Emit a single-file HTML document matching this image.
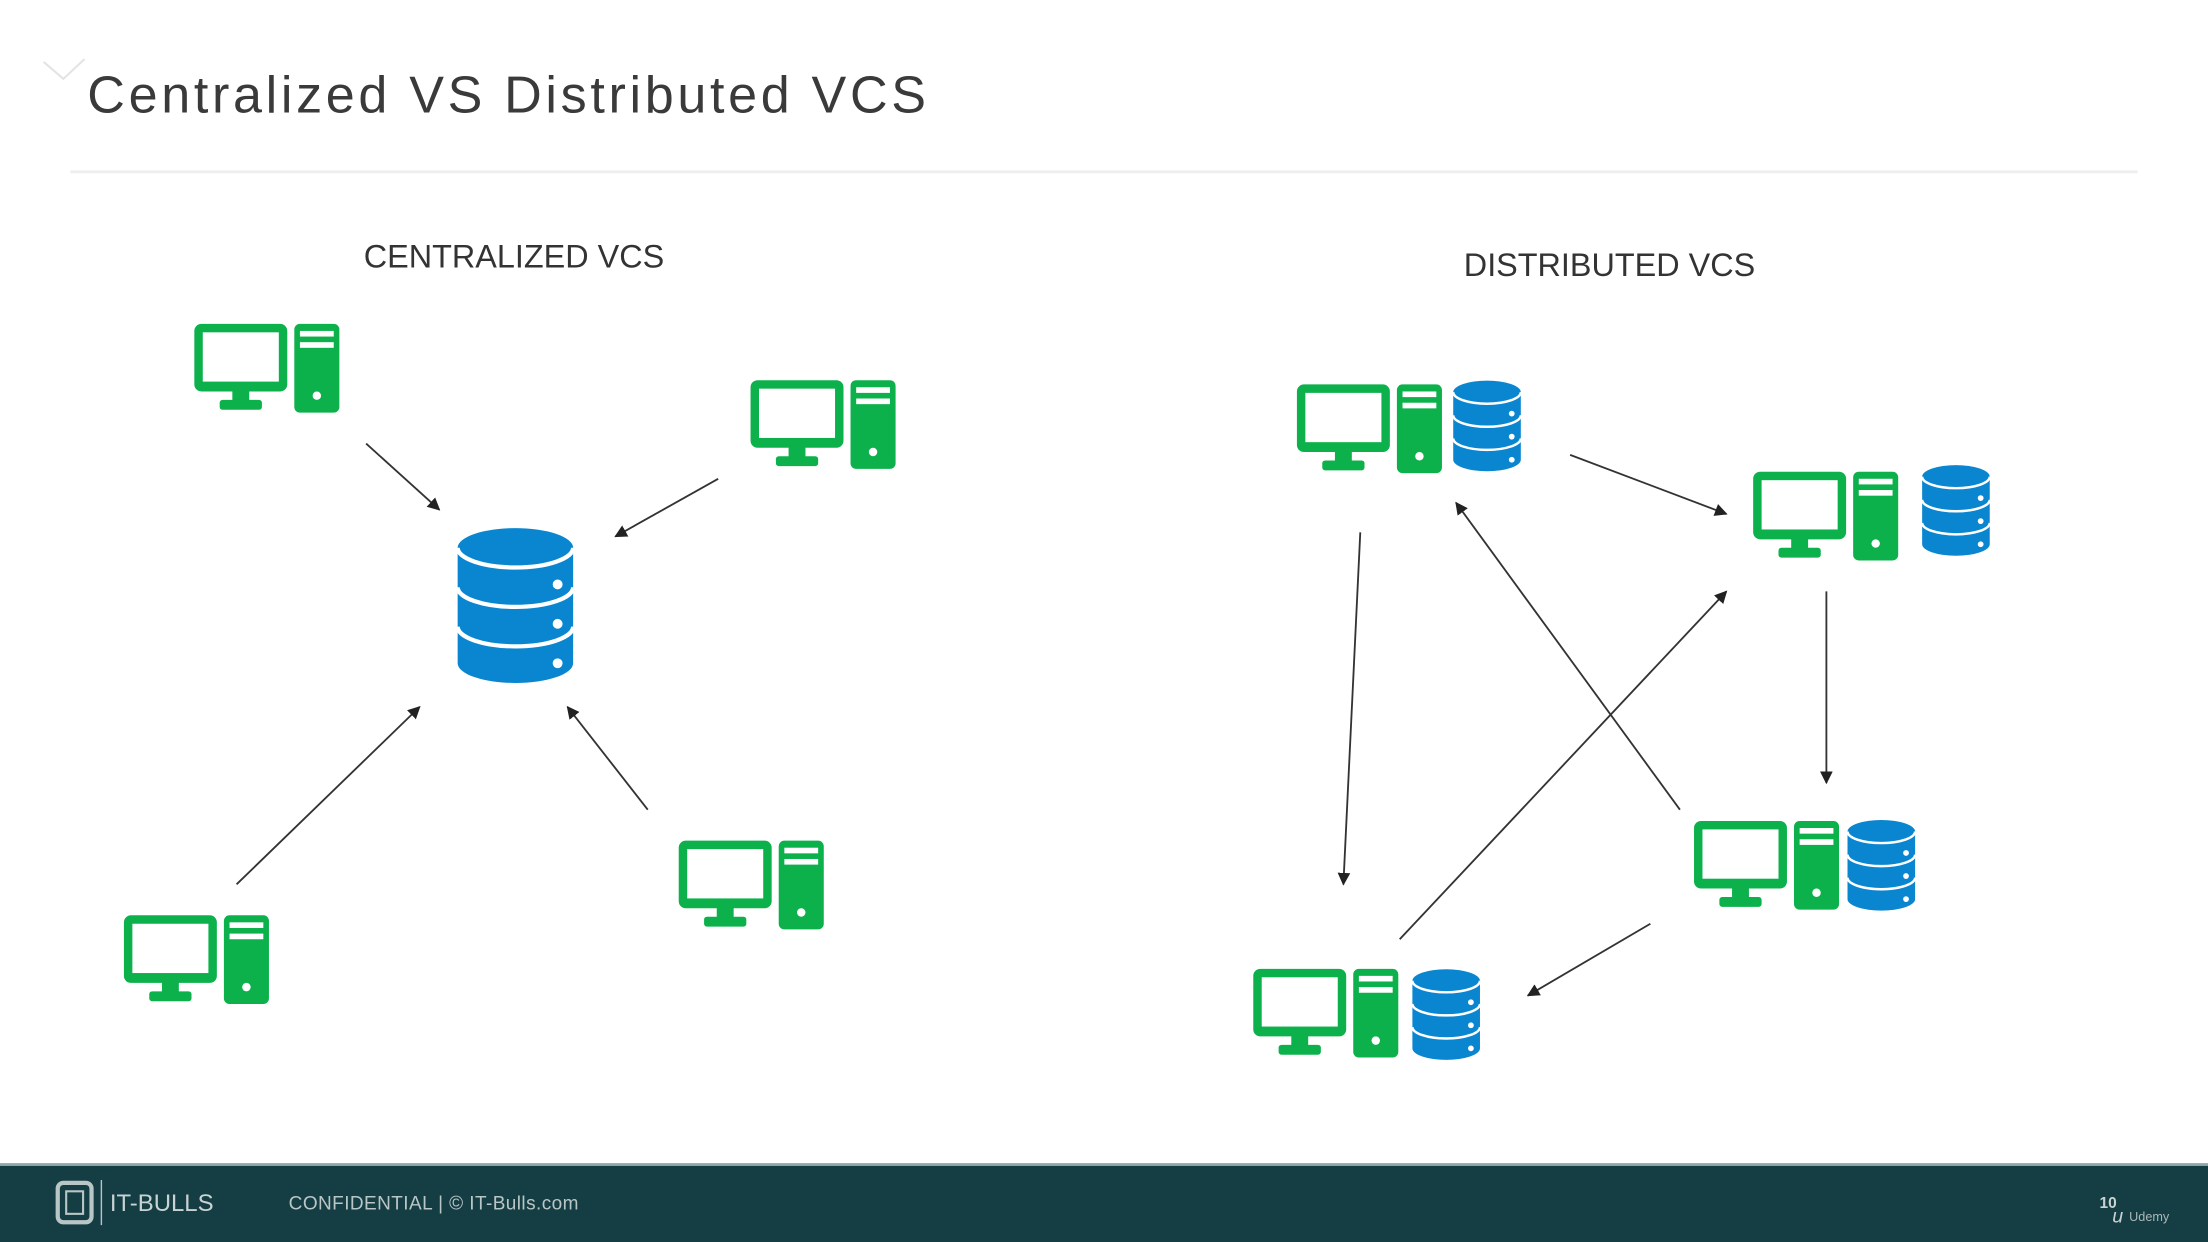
<!DOCTYPE html>
<html><head><meta charset="utf-8"><style>
html,body{margin:0;padding:0;background:#fff;}
svg{display:block;}
text{font-family:"Liberation Sans",sans-serif;}
</style></head><body>
<svg width="2208" height="1242" viewBox="0 0 1568 882" xmlns="http://www.w3.org/2000/svg">
<defs>
<symbol id="pc" overflow="visible">
  <rect x="0" y="0" width="66" height="48" rx="5" fill="#0db14b"/>
  <rect x="6" y="6" width="54" height="35" fill="#fff"/>
  <rect x="27" y="47" width="12" height="9" fill="#0db14b"/>
  <rect x="18" y="54" width="30" height="7" rx="2" fill="#0db14b"/>
  <rect x="71" y="0" width="32" height="63" rx="4" fill="#0db14b"/>
  <rect x="75" y="5" width="24" height="4" fill="#fff"/>
  <rect x="75" y="13" width="24" height="4" fill="#fff"/>
  <circle cx="87" cy="51" r="3" fill="#fff"/>
</symbol>
<symbol id="db" viewBox="0 0 82 110" overflow="visible">
  <path d="M0 14 A41 14 0 0 1 82 14 L82 96 A41 14 0 0 1 0 96 Z" fill="#0a86d0"/>
  <path d="M0 14 A41 14 0 0 0 82 14" fill="none" stroke="#fff" stroke-width="3"/>
  <path d="M0 42 A41 14 0 0 0 82 42" fill="none" stroke="#fff" stroke-width="3"/>
  <path d="M0 70 A41 14 0 0 0 82 70" fill="none" stroke="#fff" stroke-width="3"/>
  <circle cx="71" cy="40" r="3.5" fill="#fff"/>
  <circle cx="71" cy="68" r="3.5" fill="#fff"/>
  <circle cx="71" cy="96" r="3.5" fill="#fff"/>
</symbol>
<marker id="ar" viewBox="0 0 10 10" refX="9" refY="5" markerWidth="9" markerHeight="9" markerUnits="userSpaceOnUse" orient="auto">
  <path d="M0 0 L10 5 L0 10 Z" fill="#222"/>
</marker>
</defs>

<path d="M31 44 L45 56 L60 42" fill="none" stroke="#e4e4e4" stroke-width="1.5"/>
<text x="62" y="80" font-size="37" fill="#3a3a3a" letter-spacing="2.6">Centralized VS Distributed VCS</text>
<line x1="50" y1="122" x2="1518" y2="122" stroke="#eeeeee" stroke-width="2"/>

<text x="365" y="190" font-size="23" fill="#333" text-anchor="middle">CENTRALIZED VCS</text>
<text x="1143" y="196" font-size="23" fill="#333" text-anchor="middle">DISTRIBUTED VCS</text>

<use href="#pc" x="138" y="230"/>
<use href="#pc" x="533" y="270"/>
<use href="#pc" x="482" y="597"/>
<use href="#pc" x="88" y="650"/>
<use href="#db" x="325" y="375" width="82" height="110"/>
<g stroke="#333" stroke-width="1.3" marker-end="url(#ar)">
<line x1="260" y1="315" x2="312" y2="362"/>
<line x1="510" y1="340" x2="437" y2="381"/>
<line x1="168" y1="628" x2="298" y2="502"/>
<line x1="460" y1="575" x2="403" y2="502"/>
</g>

<use href="#pc" x="921" y="273"/>
<use href="#db" x="1032" y="270" width="48" height="65"/>
<use href="#pc" x="1245" y="335"/>
<use href="#db" x="1365" y="330" width="48" height="65"/>
<use href="#pc" x="1203" y="583"/>
<use href="#db" x="1312" y="582" width="48" height="65"/>
<use href="#pc" x="890" y="688"/>
<use href="#db" x="1003" y="688" width="48" height="65"/>
<g stroke="#333" stroke-width="1.3" marker-end="url(#ar)">
<line x1="1115" y1="323" x2="1226" y2="365"/>
<line x1="966" y1="378" x2="954" y2="628"/>
<line x1="1193" y1="575" x2="1034" y2="357"/>
<line x1="994" y1="667" x2="1226" y2="420"/>
<line x1="1297" y1="420" x2="1297" y2="556"/>
<line x1="1172" y1="656" x2="1085" y2="707"/>
</g>

<rect x="0" y="826" width="1568" height="2" fill="#8fa6a8"/>
<rect x="0" y="828" width="1568" height="54" fill="#153d44"/>
<rect x="41" y="840" width="24" height="28" rx="4" fill="none" stroke="#b9c6c6" stroke-width="3"/>
<rect x="47" y="846" width="12" height="16" fill="none" stroke="#b9c6c6" stroke-width="1.5"/>
<line x1="72" y1="838" x2="72" y2="870" stroke="#b9c6c6" stroke-width="1"/>
<text x="78" y="860" font-size="17" fill="#c8d3d3">IT-BULLS</text>
<text x="205" y="859" font-size="13.5" fill="#b9c6c6" letter-spacing="0.3">CONFIDENTIAL  |  © IT-Bulls.com</text>
<text x="1491" y="858" font-size="11" fill="#c8d3d3" font-weight="bold">10</text>
<text x="1500" y="868" font-size="14" fill="#c8d3d3" font-style="italic">u</text>
<text x="1512" y="867" font-size="9" fill="#aab8b8">Udemy</text>
</svg>
</body></html>
